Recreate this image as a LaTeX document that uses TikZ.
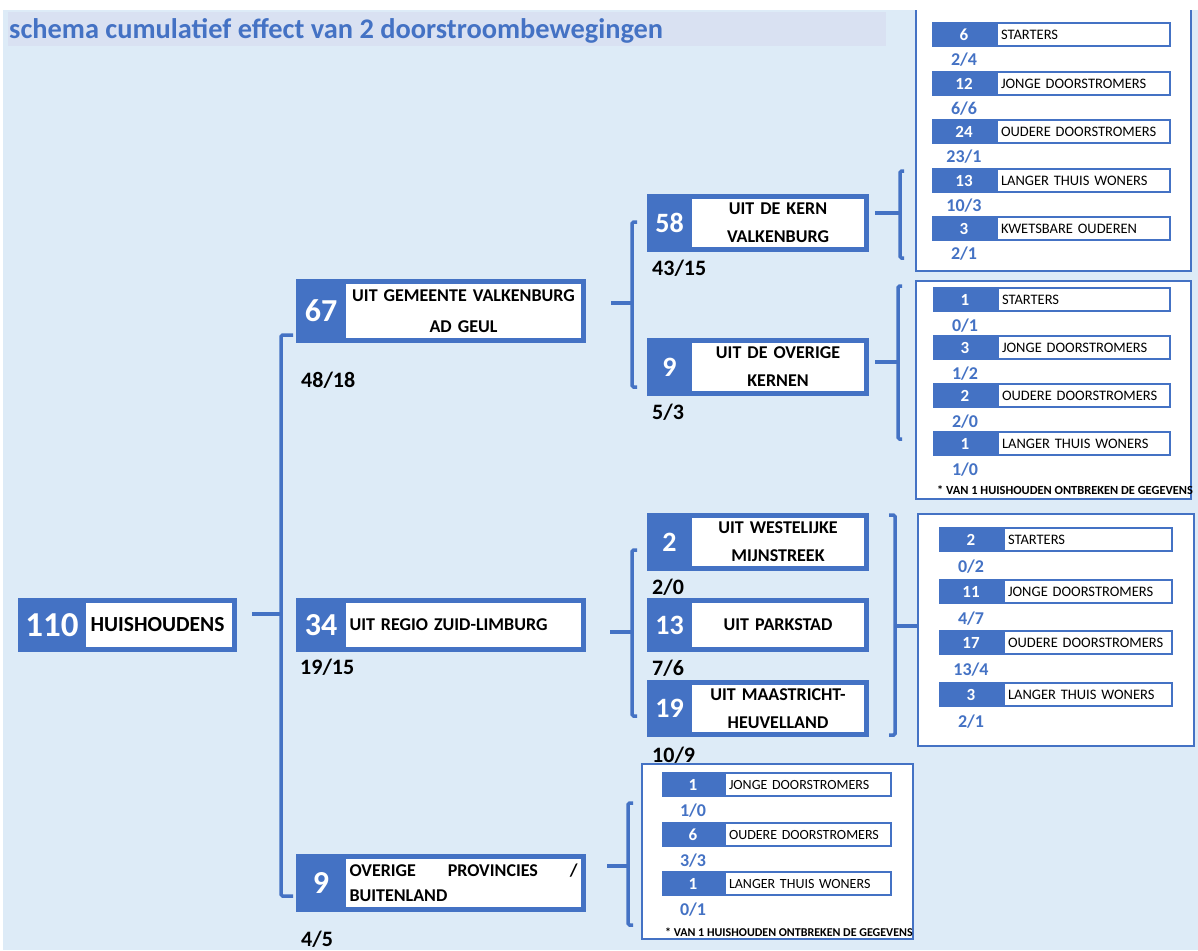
\documentclass[tikz,border=0pt]{standalone}
\usepackage{fontspec}
\setmainfont{Carlito}
\usetikzlibrary{positioning}
\definecolor{myblue}{HTML}{4472C4}
\definecolor{bgblue}{HTML}{DDEBF7}
\definecolor{bandblue}{HTML}{D9E1F2}
\tikzstyle{conn} = [draw=myblue, line width=3.5pt, rounded corners=1.5pt]
\tikzstyle{numcell} = [fill=myblue, text=white, anchor=north west, inner sep=0pt, outer sep=0pt, font=\bfseries\fontsize{32}{32}\selectfont]
\tikzstyle{num3} = [numcell, minimum width=45pt, font=\bfseries\fontsize{28}{28}\selectfont]
\tikzstyle{labcell} = [fill=white, draw=myblue, line width=5pt, anchor=north east, inner ysep=0pt]
\tikzstyle{lab2} = [labcell, text width=228pt, inner xsep=6pt, font=\bfseries\fontsize{18}{31}\selectfont]
\tikzstyle{lab3} = [labcell, text width=169pt, inner xsep=4pt, align=center, font=\bfseries\fontsize{18}{28}\selectfont]
\tikzstyle{fraclab} = [anchor=west, inner sep=0pt, font=\bfseries\fontsize{22}{22}\selectfont]
\tikzstyle{panel} = [draw=myblue, fill=white, line width=2pt, anchor=north west, inner sep=0pt]
\tikzstyle{rownum} = [fill=myblue, text=white, anchor=north west, minimum width=64pt, minimum height=25pt, inner sep=0pt, outer sep=0pt, font=\bfseries\fontsize{17}{17}\selectfont]
\tikzstyle{rowlab} = [fill=white, draw=myblue, line width=2pt, minimum height=23pt, text width=165pt, inner xsep=4pt, inner ysep=0pt, align=left, font=\fontsize{14.5}{15}\selectfont]
\tikzstyle{rowfrac} = [text=myblue, inner sep=0pt, font=\bfseries\fontsize{18}{18}\selectfont]
\tikzstyle{footlab} = [anchor=west, inner sep=0pt, font=\bfseries\fontsize{12.4}{12}\selectfont]

\begin{document}
\begin{tikzpicture}[x=1pt, y=-1pt]
\useasboundingbox (0,0) rectangle (1198,950);
\fill[white] (0,0) rectangle (1198,950);
\fill[bgblue] (3,10) rectangle (1198,950);
\fill[bandblue] (8,12) rectangle (886,46);
\node[anchor=base west, inner sep=0pt, text=myblue, font=\bfseries\fontsize{28.4}{29}\selectfont] (title) at (9,38) {schema cumulatief effect van 2 doorstroombewegingen};

% eerste kolom
\node[numcell, minimum width=68pt, minimum height=54pt, font=\bfseries\fontsize{35}{35}\selectfont] (n110) at (18,598) {110};
\node[labcell, minimum height=49pt, text width=137pt, inner xsep=7pt, align=left, font=\bfseries\fontsize{21.5}{22}\selectfont] (l110) at (237,598) {HUISHOUDENS};

% tweede kolom
\node[numcell, minimum width=50pt, minimum height=64pt] (n67) at (296,279) {67};
\node[lab2, minimum height=59pt, align=center] (l67) at (586,279) {UIT GEMEENTE VALKENBURG\\AD GEUL};
\node[fraclab] (f67) at (301,380) {48/18};

\node[numcell, minimum width=50pt, minimum height=54pt] (n34) at (296,598) {34};
\node[lab2, minimum height=49pt, align=left] (l34) at (586,598) {UIT REGIO ZUID-LIMBURG};
\node[fraclab] (f34) at (300,667) {19/15};

\node[numcell, minimum width=50pt, minimum height=58pt] (n9p) at (296,854) {9};
\node[lab2, minimum height=53pt, align=left, font=\bfseries\fontsize{18}{25}\selectfont] (l9p) at (586,854) {OVERIGE\hfill PROVINCIES\hfill /\\BUITENLAND};
\node[fraclab] (f9p) at (301,939) {4/5};

% derde kolom
\node[num3, minimum height=58pt] (n58) at (647,194) {58};
\node[lab3, minimum height=53pt] (l58) at (869,194) {UIT DE KERN\\VALKENBURG};
\node[fraclab] (f58) at (652,268) {43/15};

\node[num3, minimum height=58pt] (n9k) at (647,338) {9};
\node[lab3, minimum height=53pt] (l9k) at (869,338) {UIT DE OVERIGE\\KERNEN};
\node[fraclab] (f9k) at (652,412) {5/3};

\node[num3, minimum height=58pt] (n2) at (647,513) {2};
\node[lab3, minimum height=53pt] (l2) at (869,513) {UIT WESTELIJKE\\MIJNSTREEK};
\node[fraclab] (f2) at (652,587) {2/0};

\node[num3, minimum height=54pt] (n13) at (647,598) {13};
\node[lab3, minimum height=49pt] (l13) at (869,598) {UIT PARKSTAD};
\node[fraclab] (f13) at (652,668) {7/6};

\node[num3, minimum height=57pt] (n19) at (647,680) {19};
\node[lab3, minimum height=52pt] (l19) at (869,680) {UIT MAASTRICHT-\\HEUVELLAND};
\node[fraclab] (f19) at (652,755) {10/9};

% panelen
\node[panel, minimum width=275pt, minimum height=280pt] (p1) at (915,-10) {};
\node[panel, minimum width=275pt, minimum height=218pt] (p2) at (915,280) {};
\node[panel, minimum width=276pt, minimum height=232pt] (p3) at (917,513) {};
\node[panel, minimum width=271pt, minimum height=175pt] (p4) at (641,763) {};

% paneel 1 (uit de kern valkenburg)
\node[rownum] (r11) at (932,22) {6};
\node[rowlab, right=0pt of r11] (s11) {STARTERS};
\node[rowfrac] (q11) at ([yshift=-13pt]r11.south) {2/4};
\node[rownum] (r12) at (932,71) {12};
\node[rowlab, right=0pt of r12] (s12) {JONGE DOORSTROMERS};
\node[rowfrac] (q12) at ([yshift=-13pt]r12.south) {6/6};
\node[rownum] (r13) at (932,119) {24};
\node[rowlab, right=0pt of r13] (s13) {OUDERE DOORSTROMERS};
\node[rowfrac] (q13) at ([yshift=-13pt]r13.south) {23/1};
\node[rownum] (r14) at (932,168) {13};
\node[rowlab, right=0pt of r14] (s14) {LANGER THUIS WONERS};
\node[rowfrac] (q14) at ([yshift=-13pt]r14.south) {10/3};
\node[rownum] (r15) at (932,216) {3};
\node[rowlab, right=0pt of r15] (s15) {KWETSBARE OUDEREN};
\node[rowfrac] (q15) at ([yshift=-13pt]r15.south) {2/1};

% paneel 2 (uit de overige kernen)
\node[rownum] (r21) at (933,287) {1};
\node[rowlab, right=0pt of r21, text width=164pt] (s21) {STARTERS};
\node[rowfrac] (q21) at ([yshift=-14pt]r21.south) {0/1};
\node[rownum] (r22) at (933,335) {3};
\node[rowlab, right=0pt of r22, text width=164pt] (s22) {JONGE DOORSTROMERS};
\node[rowfrac] (q22) at ([yshift=-14pt]r22.south) {1/2};
\node[rownum] (r23) at (933,383) {2};
\node[rowlab, right=0pt of r23, text width=164pt] (s23) {OUDERE DOORSTROMERS};
\node[rowfrac] (q23) at ([yshift=-14pt]r23.south) {2/0};
\node[rownum] (r24) at (933,431) {1};
\node[rowlab, right=0pt of r24, text width=164pt] (s24) {LANGER THUIS WONERS};
\node[rowfrac] (q24) at ([yshift=-14pt]r24.south) {1/0};
\node[footlab] (fn2) at (937,490) {* VAN 1 HUISHOUDEN ONTBREKEN DE GEGEVENS};

% paneel 3 (regio zuid-limburg)
\node[rownum] (r31) at (939,527) {2};
\node[rowlab, right=0pt of r31, text width=160pt] (s31) {STARTERS};
\node[rowfrac] (q31) at ([yshift=-15pt]r31.south) {0/2};
\node[rownum] (r32) at (939,579) {11};
\node[rowlab, right=0pt of r32, text width=160pt] (s32) {JONGE DOORSTROMERS};
\node[rowfrac] (q32) at ([yshift=-15pt]r32.south) {4/7};
\node[rownum] (r33) at (939,630) {17};
\node[rowlab, right=0pt of r33, text width=160pt] (s33) {OUDERE DOORSTROMERS};
\node[rowfrac] (q33) at ([yshift=-15pt]r33.south) {13/4};
\node[rownum] (r34) at (939,682) {3};
\node[rowlab, right=0pt of r34, text width=160pt] (s34) {LANGER THUIS WONERS};
\node[rowfrac] (q34) at ([yshift=-15pt]r34.south) {2/1};

% paneel 4 (overige provincies)
\node[rownum, minimum width=62pt] (r41) at (662,772) {1};
\node[rowlab, right=0pt of r41, text width=158pt, font=\fontsize{14}{15}\selectfont] (s41) {JONGE DOORSTROMERS};
\node[rowfrac] (q41) at ([yshift=-14pt]r41.south) {1/0};
\node[rownum, minimum width=62pt] (r42) at (662,822) {6};
\node[rowlab, right=0pt of r42, text width=158pt, font=\fontsize{14}{15}\selectfont] (s42) {OUDERE DOORSTROMERS};
\node[rowfrac] (q42) at ([yshift=-14pt]r42.south) {3/3};
\node[rownum, minimum width=62pt] (r43) at (662,871) {1};
\node[rowlab, right=0pt of r43, text width=158pt, font=\fontsize{14}{15}\selectfont] (s43) {LANGER THUIS WONERS};
\node[rowfrac] (q43) at ([yshift=-14pt]r43.south) {0/1};
\node[footlab, font=\bfseries\fontsize{12}{12}\selectfont] (fn4) at (665,932) {* VAN 1 HUISHOUDEN ONTBREKEN DE GEGEVENS};

% haken
\coordinate (k110) at (281,614);
\coordinate (k67) at (632,303);
\coordinate (k58) at (900,213);
\coordinate (k9k) at (898,362);
\coordinate (k34) at (632,632);
\coordinate (kzl) at (895,626);
\coordinate (k9p) at (628,866);

\draw[conn] ([xshift=15pt]l110.east |- k110) -- (k110);
\draw[conn] (293,335) -| (k110) |- (293,896);
\draw[conn] ([xshift=25pt]l67.east |- k67) -- (k67);
\draw[conn] (637,222) -| (k67) |- (637,387);
\draw[conn] ([xshift=6pt]l58.east |- k58) -- (k58);
\draw[conn] (904,171) -| (k58) |- (904,258);
\draw[conn] ([xshift=6pt]l9k.east |- k9k) -- (k9k);
\draw[conn] (902,286) -| (k9k) |- (902,439);
\draw[conn] ([xshift=24pt]l34.east |- k34) -- (k34);
\draw[conn] (637,550) -| (k34) |- (637,716);
\draw[conn] (889,515) -| (kzl) |- (889,735);
\draw[conn] (kzl) -- (p3.west |- kzl);
\draw[conn] ([xshift=21pt]l9p.east |- k9p) -- (k9p);
\draw[conn] (633,803) -| (k9p) |- (633,925);

\fill[white] (0,0) rectangle (1198,10);
\end{tikzpicture}
\end{document}
